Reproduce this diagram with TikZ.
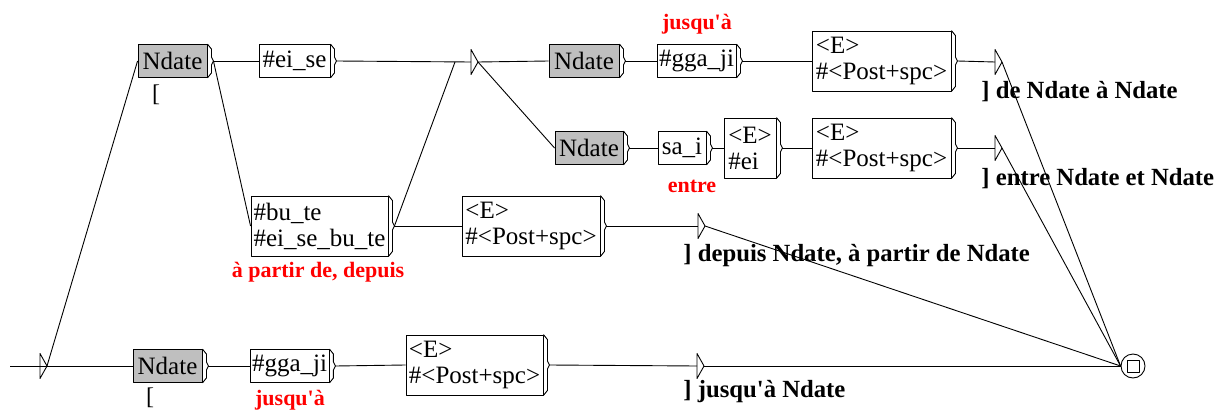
\documentclass[tikz,border=0pt]{standalone}
\usepackage{fontspec}
\setmainfont{Liberation Serif}
\usetikzlibrary{shapes.geometric}

\begin{document}
\begin{tikzpicture}[x=1pt, y=-1pt, line width=0.9pt, line join=round,
    box/.style={draw, minimum width=#1, minimum height=33, inner sep=2pt, align=left,
                font=\fontsize{25}{26}\selectfont,
                append after command={\pgfextra{\draw (\tikzlastnode.north east)
                  -- ([xshift=4pt,yshift=-5pt]\tikzlastnode.north east)
                  -- ([xshift=4pt,yshift=4pt]\tikzlastnode.east)
                  -- ([xshift=6pt]\tikzlastnode.east)
                  -- ([xshift=4pt,yshift=-4pt]\tikzlastnode.east)
                  -- ([xshift=4pt,yshift=5pt]\tikzlastnode.south east)
                  -- (\tikzlastnode.south east);}}},
    gbox/.style={box=#1, fill=gray!50},
    dbox/.style={box=#1, minimum height=60},
    eps/.style={draw, isosceles triangle, isosceles triangle stretches, minimum width=25,
                minimum height=7, inner sep=0, outer sep=0, anchor=west},
    redlab/.style={text=red, font=\bfseries\fontsize{22}{24}\selectfont},
    outlab/.style={font=\bfseries\fontsize{24.7}{26}\selectfont, anchor=west, inner sep=0}]
  \useasboundingbox (0,0) rectangle (1216,412);

  % first line: de ... a ...
  \node[gbox=69] (nd1) at (172.5,61) {Ndate};
  \node[box=71] (eise) at (294.5,61) {\#ei\_se};
  \node[eps] (e1) at (471,62) {};
  \node[gbox=70] (nd2) at (584,61) {Ndate};
  \node[box=77] (ggaji1) at (696.5,61) {\#gga\_ji};
  \node[dbox=139] (post1) at (881.5,61) {<E>\\\#<Post+spc>};
  \node[eps] (e2) at (995,62) {};

  % second line: entre ... et ...
  \node[gbox=68] (nd3) at (589,148) {Ndate};
  \node[box=48] (sai) at (682,148) {sa\_i};
  \node[dbox=52] (eei) at (750,148) {<E>\\\#ei};
  \node[dbox=139] (post2) at (881.5,148) {<E>\\\#<Post+spc>};
  \node[eps] (e3) at (995,148) {};

  % third line: depuis
  \node[dbox=137] (bute) at (319.5,226) {\#bu\_te\\\#ei\_se\_bu\_te};
  \node[dbox=138] (post3) at (531,226) {<E>\\\#<Post+spc>};
  \node[eps] (e4) at (698,226) {};

  % fourth line: jusqu'a
  \node[eps] (st) at (40,366) {};
  \node[gbox=69] (nd4) at (167.5,366) {Ndate};
  \node[box=77] (ggaji2) at (289.5,366) {\#gga\_ji};
  \node[dbox=137] (post4) at (474.5,365) {<E>\\\#<Post+spc>};
  \node[eps] (e5) at (697,366) {};

  % final state
  \node[draw, circle, minimum size=24, inner sep=0] (fin) at (1133,366) {};
  \draw ([shift={(-6pt,-6pt)}]fin.center) rectangle ([shift={(6pt,6pt)}]fin.center);

  % outputs and comments
  \node[font=\fontsize{24}{26}\selectfont] (br1) at (156,95) {[};
  \node[font=\fontsize{24}{26}\selectfont] (br2) at (150,398) {[};
  \node[redlab] (jl1) at (697,24) {jusqu\textquotesingle à};
  \node[redlab] (jl2) at (290,400) {jusqu\textquotesingle à};
  \node[redlab] (ent) at (692,186) {entre};
  \node[redlab] (dep) at (318,272) {à partir de, depuis};
  \node[outlab] (o1) at (981,92) {] de Ndate à Ndate};
  \node[outlab] (o2) at (981,179) {] entre Ndate et Ndate};
  \node[outlab] (o3) at (683,256) {] depuis Ndate, à partir de Ndate};
  \node[outlab] (o4) at (683,392) {] jusqu\textquotesingle à Ndate};

  % transitions
  \coordinate (s0) at (10,366);
  \coordinate (j1) at (455,62);
  \draw (s0) -- (nd4.west);
  \draw (st.apex) -- (nd1.west);
  \draw ([xshift=6pt]nd1.east) -- (eise.west);
  \draw ([xshift=6pt]nd1.east) -- (bute.west);
  \draw ([xshift=6pt]eise.east) -- (e1.west);
  \draw ([xshift=6pt]bute.east) -- (j1);
  \draw ([xshift=6pt]bute.east) -- (post3.west);
  \draw (e1.apex) -- (nd2.west);
  \draw (e1.apex) -- (nd3.west);
  \draw ([xshift=6pt]nd2.east) -- (ggaji1.west);
  \draw ([xshift=6pt]ggaji1.east) -- (post1.west);
  \draw ([xshift=6pt]post1.east) -- (e2.west);
  \draw ([xshift=6pt]nd3.east) -- (sai.west);
  \draw ([xshift=6pt]sai.east) -- (eei.west);
  \draw ([xshift=6pt]eei.east) -- (post2.west);
  \draw ([xshift=6pt]post2.east) -- (e3.west);
  \draw ([xshift=6pt]post3.east) -- (e4.west);
  \draw ([xshift=6pt]nd4.east) -- (ggaji2.west);
  \draw ([xshift=6pt]ggaji2.east) -- (post4.west);
  \draw ([xshift=6pt]post4.east) -- (e5.west);
  \draw (e2.apex) -- (fin.west);
  \draw (e3.apex) -- (fin.west);
  \draw (e4.apex) -- (fin.west);
  \draw (e5.apex) -- (fin.west);
\end{tikzpicture}
\end{document}
